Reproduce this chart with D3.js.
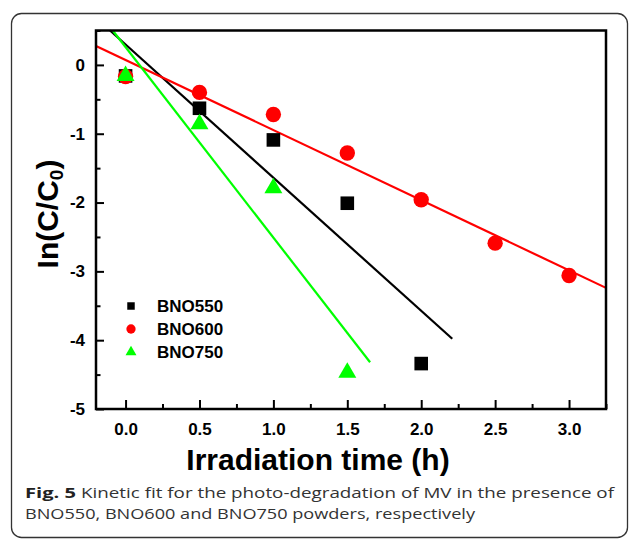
<!DOCTYPE html>
<html>
<head>
<meta charset="utf-8">
<script src="https://cdn.jsdelivr.net/npm/d3@7"></script>
<style>
  body { margin: 0; background: #fff; }
  svg { display: block; }
</style>
</head>
<body>
<svg id="chart" width="629" height="540"></svg>
<script>
'use strict';

// Irradiation times (h) and ln(C/C0) values
const times550 = [0, 0.5, 1.0, 1.5, 2.0];
const values550 = [-0.16, -0.63, -1.09, -2.01, -4.34];

const times600 = [0, 0.5, 1.0, 1.5, 2.0, 2.5, 3.0];
const values600 = [-0.17, -0.40, -0.72, -1.28, -1.96, -2.59, -3.06];

const times750 = [0, 0.5, 1.0, 1.5];
const values750 = [-0.16, -0.86, -1.79, -4.47];

// Linear fit lines, as [start, end] points
const fit550 = [[-0.105, 0.5], [2.21, -3.98]];
const fit600 = [[-0.2, 0.276], [3.25, -3.24]];
const fit750 = [[-0.087, 0.5], [1.654, -4.32]];

const seriesNames = ['BNO550', 'BNO600', 'BNO750'];
const xTicks = [0, 0.5, 1.0, 1.5, 2.0, 2.5, 3.0];
const xMinorTicks = [0.25, 0.75, 1.25, 1.75, 2.25, 2.75, 3.25];
const yTicks = [0, -1, -2, -3, -4, -5];
const yMinorTicks = [0.5, -0.5, -1.5, -2.5, -3.5, -4.5];

const series = [
  { name: seriesNames[0], times: times550, values: values550, fit: fit550, color: '#000000', shape: 'square' },
  { name: seriesNames[1], times: times600, values: values600, fit: fit600, color: '#ff0000', shape: 'circle' },
  { name: seriesNames[2], times: times750, values: values750, fit: fit750, color: '#00ff00', shape: 'triangle' }
];

const svg = d3.select('#chart');

// Rounded frame around the whole figure
svg.append('rect')
   .attr('x', 11.5)
   .attr('y', 13.5)
   .attr('width', 616)
   .attr('height', 524)
   .attr('rx', 10)
   .attr('fill', 'none')
   .attr('stroke', '#333')
   .attr('stroke-width', 1.3);

const plot = { left: 96, right: 606, top: 30.5, bottom: 409 };

const x = d3.scaleLinear()
  .domain([-0.2, 3.25])
  .range([plot.left, plot.right]);

const y = d3.scaleLinear()
  .domain([-5, 0.5])
  .range([plot.bottom, plot.top]);

const tickFont = 'Liberation Sans, Arial, sans-serif';

// Inward ticks on bottom and left
const xAxis = d3.axisBottom(x)
  .tickValues(xTicks)
  .tickSize(-9)
  .tickPadding(14)
  .tickFormat(d => d.toFixed(1));

const xAxisMinor = d3.axisBottom(x)
  .tickValues(xMinorTicks)
  .tickSize(-5)
  .tickFormat('');

// plain hyphen for negatives, like the original
const yAxis = d3.axisLeft(y)
  .tickValues(yTicks)
  .tickSize(-8)
  .tickPadding(11)
  .tickFormat(d => String(d));

const yAxisMinor = d3.axisLeft(y)
  .tickValues(yMinorTicks)
  .tickSize(-4.5)
  .tickFormat('');

function styleAxis(g) {
  g.select('.domain').remove();
  g.selectAll('.tick line').attr('stroke', '#000').attr('stroke-width', 2);
  g.selectAll('.tick text')
   .attr('fill', '#000')
   .style('font-family', tickFont)
   .style('font-weight', 'bold')
   .style('font-size', '17px');
}

svg.append('g')
   .attr('transform', `translate(0, ${plot.bottom})`)
   .call(xAxis)
   .call(styleAxis);

svg.append('g')
   .attr('transform', `translate(0, ${plot.bottom})`)
   .call(xAxisMinor)
   .call(styleAxis);

svg.append('g')
   .attr('transform', `translate(${plot.left}, 0)`)
   .call(yAxis)
   .call(styleAxis);

svg.append('g')
   .attr('transform', `translate(${plot.left}, 0)`)
   .call(yAxisMinor)
   .call(styleAxis);

// Fit lines
const line = d3.line()
  .x(d => x(d[0]))
  .y(d => y(d[1]));

svg.append('g')
   .selectAll('path')
   .data(series)
   .enter()
   .append('path')
     .attr('d', d => line(d.fit))
     .attr('fill', 'none')
     .attr('stroke', d => d.color)
     .attr('stroke-width', 2.2);

// Markers
function symbolFor(shape, big) {
  if (shape === 'square') return d3.symbol(d3.symbolSquare, big ? 185 : 56)();
  if (shape === 'circle') return d3.symbol(d3.symbolCircle, big ? 185 : 68)();
  return d3.symbol(d3.symbolTriangle, big ? 140 : 52)();
}

series.forEach(s => {
  svg.append('g')
     .selectAll('path')
     .data(s.times.map((t, i) => [t, s.values[i]]))
     .enter()
     .append('path')
       .attr('d', symbolFor(s.shape, true))
       .attr('transform', d => `translate(${x(d[0])}, ${y(d[1])})`)
       .attr('fill', s.color);
});

// Plot frame
svg.append('rect')
   .attr('x', plot.left)
   .attr('y', plot.top)
   .attr('width', plot.right - plot.left)
   .attr('height', plot.bottom - plot.top)
   .attr('fill', 'none')
   .attr('stroke', '#000')
   .attr('stroke-width', 2.5);

// Legend
const legend = svg.append('g')
  .selectAll('g')
  .data(series)
  .enter()
  .append('g')
    .attr('transform', (d, i) => `translate(131, ${306 + i * 23})`);

legend.append('path')
      .attr('d', d => symbolFor(d.shape, false))
      .attr('fill', d => d.color);

legend.append('text')
      .attr('x', 26)
      .attr('dy', '0.35em')
      .style('font-family', tickFont)
      .style('font-weight', 'bold')
      .style('font-size', '17px')
      .text(d => d.name);

// Axis titles
svg.append('text')
   .attr('x', 318)
   .attr('y', 470)
   .attr('text-anchor', 'middle')
   .style('font-family', tickFont)
   .style('font-weight', 'bold')
   .style('font-size', '30px')
   .text('Irradiation time (h)');

const yTitle = svg.append('text')
  .attr('transform', 'translate(58, 214) rotate(-90)')
  .attr('text-anchor', 'middle')
  .style('font-family', tickFont)
  .style('font-weight', 'bold')
  .style('font-size', '30px');
yTitle.append('tspan').text('In(C/C');
yTitle.append('tspan').attr('baseline-shift', '-25%').style('font-size', '19px').text('0');
yTitle.append('tspan').text(')');

// Caption (two lines, kept apart so they don't touch)
const captionFont = 'Open Sans, Noto Sans, sans-serif';

svg.append('text')
   .attr('x', 25)
   .attr('y', 498)
   .attr('textLength', 51)
   .attr('lengthAdjust', 'spacingAndGlyphs')
   .attr('fill', '#222')
   .style('font-family', captionFont)
   .style('font-weight', 'bold')
   .style('font-size', '15px')
   .text('Fig. 5');

svg.append('text')
   .attr('x', 81)
   .attr('y', 498)
   .attr('textLength', 533)
   .attr('lengthAdjust', 'spacingAndGlyphs')
   .attr('fill', '#333')
   .style('font-family', captionFont)
   .style('font-size', '15px')
   .text('Kinetic fit for the photo-degradation of MV in the presence of');

svg.append('text')
   .attr('x', 25)
   .attr('y', 519)
   .attr('textLength', 450)
   .attr('lengthAdjust', 'spacingAndGlyphs')
   .attr('fill', '#333')
   .style('font-family', captionFont)
   .style('font-size', '15px')
   .text('BNO550, BNO600 and BNO750 powders, respectively');
</script>
</body>
</html>
